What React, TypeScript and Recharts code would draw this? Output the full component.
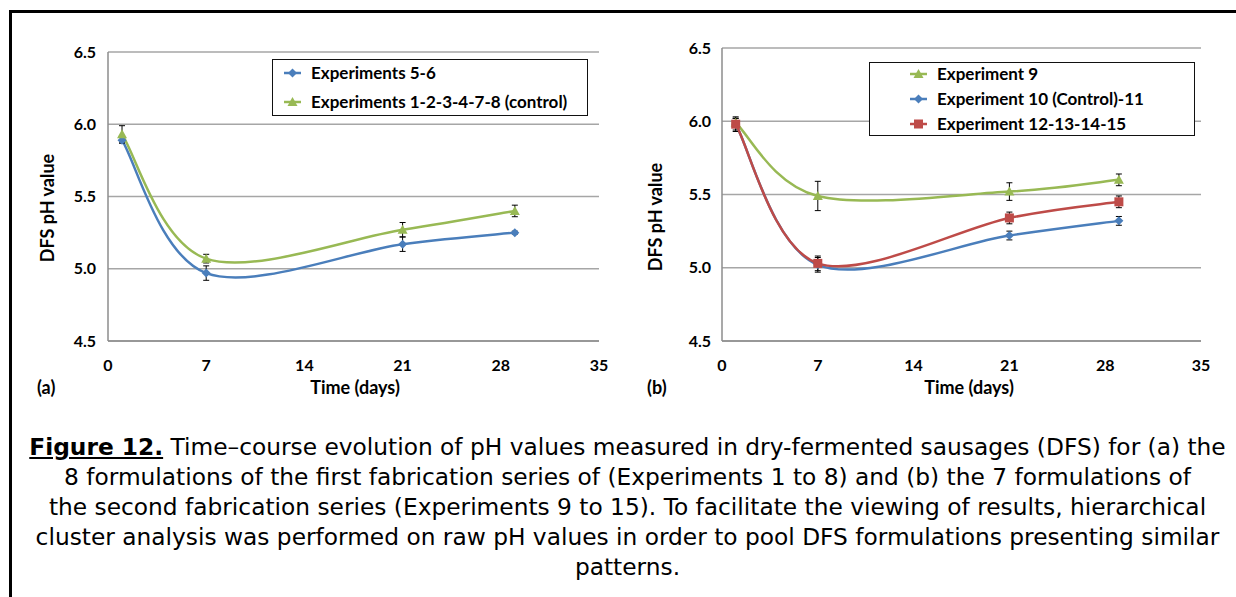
import React from 'react'
import { LineChart, Line, XAxis, YAxis, CartesianGrid, ErrorBar, Legend } from 'recharts'

const DAYS = [1, 7, 21, 29]
const X_TICKS = [0, 7, 14, 21, 28, 35]
const Y_TICKS = [4.5, 5.0, 5.5, 6.0, 6.5]

// (a) first fabrication series
const A_EXP_5_6 = [5.89, 4.97, 5.17, 5.25]
const A_EXP_5_6_ERR = [0.02, 0.05, 0.05, 0.01]
const A_CONTROL = [5.93, 5.07, 5.27, 5.4]
const A_CONTROL_ERR = [0.06, 0.03, 0.05, 0.04]

// (b) second fabrication series
const B_EXP_9 = [5.99, 5.49, 5.52, 5.6]
const B_EXP_9_ERR = [0.03, 0.1, 0.06, 0.04]
const B_EXP_10_11 = [5.98, 5.02, 5.22, 5.32]
const B_EXP_10_11_ERR = [0.04, 0.05, 0.03, 0.03]
const B_EXP_12_15 = [5.98, 5.03, 5.34, 5.45]
const B_EXP_12_15_ERR = [0.05, 0.05, 0.04, 0.04]

const BLUE = '#4a7ebb'
const GREEN = '#98b954'
const RED = '#be4b48'
const GRID = '#a6a6a6'
const AXIS = '#8c8c8c'
const FONT = 'Lato, "Open Sans", sans-serif'

const dataA = DAYS.map((d, i) => ({
  day: d,
  blue: A_EXP_5_6[i],
  blueErr: A_EXP_5_6_ERR[i],
  green: A_CONTROL[i],
  greenErr: A_CONTROL_ERR[i],
}))

const dataB = DAYS.map((d, i) => ({
  day: d,
  green: B_EXP_9[i],
  greenErr: B_EXP_9_ERR[i],
  blue: B_EXP_10_11[i],
  blueErr: B_EXP_10_11_ERR[i],
  red: B_EXP_12_15[i],
  redErr: B_EXP_12_15_ERR[i],
}))

// Excel-style smoothed line (Catmull-Rom as bezier)
const excelSmooth = (ctx: any) => {
  let pts: number[][] = []
  return {
    areaStart() {},
    areaEnd() {},
    lineStart() {
      pts = []
    },
    point(x: number, y: number) {
      pts.push([+x, +y])
    },
    lineEnd() {
      if (!pts.length) return
      ctx.moveTo(pts[0][0], pts[0][1])
      for (let i = 0; i < pts.length - 1; i++) {
        const p0 = pts[i - 1] ?? pts[i]
        const p1 = pts[i]
        const p2 = pts[i + 1]
        const p3 = pts[i + 2] ?? p2
        ctx.bezierCurveTo(
          p1[0] + (p2[0] - p0[0]) / 6,
          p1[1] + (p2[1] - p0[1]) / 6,
          p2[0] - (p3[0] - p1[0]) / 6,
          p2[1] - (p3[1] - p1[1]) / 6,
          p2[0],
          p2[1]
        )
      }
    },
  }
}

type MarkerKind = 'diamond' | 'triangle' | 'square'

function Marker({ kind, cx, cy, color }: { kind: MarkerKind; cx: number; cy: number; color: string }) {
  if (kind === 'diamond')
    return <polygon points={`${cx},${cy - 4.5} ${cx + 4.5},${cy} ${cx},${cy + 4.5} ${cx - 4.5},${cy}`} fill={color} />
  if (kind === 'triangle')
    return <polygon points={`${cx},${cy - 5} ${cx + 5},${cy + 4} ${cx - 5},${cy + 4}`} fill={color} />
  return <rect x={cx - 4.5} y={cy - 4.5} width={9} height={9} fill={color} />
}

const dotFor = (kind: MarkerKind, color: string) => (p: any) =>
  <Marker key={`${kind}-${p.index}`} kind={kind} cx={p.cx} cy={p.cy} color={color} />

interface LegendItem {
  label: string
  color: string
  kind: MarkerKind
}

function LegendBox({
  items, width, height, rowTop, rowGap, lineX, textX,
}: {
  items: LegendItem[]; width: number; height: number; rowTop: number; rowGap: number; lineX: number; textX: number
}) {
  return (
    <div
      style={{
        position: 'relative',
        width,
        height,
        boxSizing: 'border-box',
        border: '1.5px solid #111',
        background: '#fff',
      }}
    >
      {items.map((it, i) => (
        <div key={it.label} style={{ position: 'absolute', left: 0, top: rowTop + i * rowGap - 11, height: 22, width: '100%' }}>
          <svg width={20} height={22} style={{ position: 'absolute', left: lineX - 1, top: 0 }}>
            <line x1={1} y1={11} x2={18} y2={11} stroke={it.color} strokeWidth={2.5} />
            <Marker kind={it.kind} cx={9.5} cy={11} color={it.color} />
          </svg>
          <span
            style={{
              position: 'absolute',
              left: textX,
              top: 0,
              lineHeight: '22px',
              fontFamily: FONT,
              fontWeight: 700,
              fontSize: 17,
              color: '#000',
              whiteSpace: 'nowrap',
            }}
          >
            {it.label}
          </span>
        </div>
      ))}
    </div>
  )
}

const tickStyle = { fontFamily: FONT, fontWeight: 700, fontSize: 16, fill: '#000' }
const titleStyle = { fontFamily: FONT, fontWeight: 700, fontSize: 18, fill: '#000' }

function PanelChart({
  data, width, tag, marginTop, marginRight, yAxisWidth, yTickMargin, titleX, tagX, yTitleX, yTitleY, legend, children,
}: {
  data: any[]; width: number; tag: string; marginTop: number; marginRight: number; yAxisWidth: number; yTickMargin: number
  titleX: number; tagX: number; yTitleX: number; yTitleY: number; legend: React.ReactNode; children: React.ReactNode
}) {
  return (
    <LineChart width={width} height={410} data={data} margin={{ top: marginTop, right: marginRight, bottom: 0, left: 0 }}>
      <CartesianGrid horizontal vertical={false} stroke={GRID} strokeWidth={1.5} />
      <XAxis
        dataKey="day"
        type="number"
        domain={[0, 35]}
        ticks={X_TICKS}
        height={69}
        tickLine={false}
        tickSize={0}
        tickMargin={19}
        axisLine={{ stroke: AXIS, strokeWidth: 1.5 }}
        tick={tickStyle}
        label={{
          content: () => (
            <g>
              <text x={titleX} y={394} textAnchor="middle" style={titleStyle}>Time (days)</text>
              <text x={tagX} y={394} textAnchor="start" style={titleStyle}>{tag}</text>
            </g>
          ),
        }}
      />
      <YAxis
        type="number"
        domain={[4.5, 6.5]}
        ticks={Y_TICKS}
        width={yAxisWidth}
        tickLine={false}
        tickSize={0}
        tickMargin={yTickMargin}
        axisLine={{ stroke: AXIS, strokeWidth: 1.5 }}
        tick={tickStyle}
        tickFormatter={(v: number) => v.toFixed(1)}
        label={{
          content: () => (
            <text
              x={yTitleX}
              y={yTitleY}
              transform={`rotate(-90 ${yTitleX} ${yTitleY})`}
              textAnchor="middle"
              dominantBaseline="central"
              style={titleStyle}
            >
              DFS pH value
            </text>
          ),
        }}
      />
      {legend}
      {children}
    </LineChart>
  )
}

export default function App() {
  const legendA: LegendItem[] = [
    { label: 'Experiments 5-6', color: BLUE, kind: 'diamond' },
    { label: 'Experiments 1-2-3-4-7-8 (control)', color: GREEN, kind: 'triangle' },
  ]
  const legendB: LegendItem[] = [
    { label: 'Experiment 9', color: GREEN, kind: 'triangle' },
    { label: 'Experiment 10 (Control)-11', color: BLUE, kind: 'diamond' },
    { label: 'Experiment 12-13-14-15', color: RED, kind: 'square' },
  ]

  const errBar = (key: string) => (
    <ErrorBar dataKey={key} direction="y" width={3} stroke="#000" strokeWidth={1} />
  )

  return (
    <div style={{ position: 'absolute', left: 0, top: 0, width: 1236, height: 597, overflow: 'hidden', background: '#fff' }}>
      {/* figure frame */}
      <div
        style={{
          position: 'absolute',
          left: 9,
          top: 10,
          width: 1400,
          height: 800,
          borderLeft: '3px solid #000',
          borderTop: '3px solid #000',
        }}
      />

      <div style={{ position: 'absolute', left: 0, top: 0 }}>
        <PanelChart
          data={dataA}
          width={610}
          tag="(a)"
          marginTop={52}
          marginRight={11}
          yAxisWidth={108}
          yTickMargin={12}
          titleX={355}
          tagX={37}
          yTitleX={47}
          yTitleY={208}
          legend={
            <Legend
              layout="vertical"
              align="center"
              verticalAlign="middle"
              wrapperStyle={{ left: 272, top: 59, width: 316, height: 57 }}
              content={() => (
                <LegendBox items={legendA} width={316} height={57} rowTop={13} rowGap={29} lineX={11} textX={38} />
              )}
            />
          }
        >
          <Line dataKey="blue" stroke={BLUE} strokeWidth={2.5} type={excelSmooth as any} dot={dotFor('diamond', BLUE)} activeDot={false} isAnimationActive={false}>
            {errBar('blueErr')}
          </Line>
          <Line dataKey="green" stroke={GREEN} strokeWidth={2.5} type={excelSmooth as any} dot={dotFor('triangle', GREEN)} activeDot={false} isAnimationActive={false}>
            {errBar('greenErr')}
          </Line>
        </PanelChart>
      </div>

      <div style={{ position: 'absolute', left: 615, top: 0 }}>
        <PanelChart
          data={dataB}
          width={621}
          tag="(b)"
          marginTop={48}
          marginRight={35}
          yAxisWidth={107}
          yTickMargin={11}
          titleX={354}
          tagX={32}
          yTitleX={40}
          yTitleY={217}
          legend={
            <Legend
              layout="vertical"
              align="center"
              verticalAlign="middle"
              wrapperStyle={{ left: 254, top: 62, width: 326, height: 74 }}
              content={() => (
                <LegendBox items={legendB} width={326} height={74} rowTop={11} rowGap={25} lineX={40} textX={67} />
              )}
            />
          }
        >
          <Line dataKey="blue" stroke={BLUE} strokeWidth={2.5} type={excelSmooth as any} dot={dotFor('diamond', BLUE)} activeDot={false} isAnimationActive={false}>
            {errBar('blueErr')}
          </Line>
          <Line dataKey="green" stroke={GREEN} strokeWidth={2.5} type={excelSmooth as any} dot={dotFor('triangle', GREEN)} activeDot={false} isAnimationActive={false}>
            {errBar('greenErr')}
          </Line>
          <Line dataKey="red" stroke={RED} strokeWidth={2.5} type={excelSmooth as any} dot={dotFor('square', RED)} activeDot={false} isAnimationActive={false}>
            {errBar('redErr')}
          </Line>
        </PanelChart>
      </div>

      {/* caption */}
      <div
        style={{
          position: 'absolute',
          left: 13,
          top: 432,
          width: 1229,
          textAlign: 'center',
          fontFamily: '"DejaVu Sans", sans-serif',
          fontSize: 23.3,
          lineHeight: '30px',
          color: '#000',
          whiteSpace: 'nowrap',
        }}
      >
        <span style={{ fontWeight: 700, textDecoration: 'underline' }}>Figure 12.</span> Time–course evolution of pH values measured in dry-fermented sausages (DFS) for (a) the
        <br />
        8 formulations of the first fabrication series of (Experiments 1 to 8) and (b) the 7 formulations of
        <br />
        the second fabrication series (Experiments 9 to 15). To facilitate the viewing of results, hierarchical
        <br />
        cluster analysis was performed on raw pH values in order to pool DFS formulations presenting similar
        <br />
        patterns.
      </div>
    </div>
  )
}
